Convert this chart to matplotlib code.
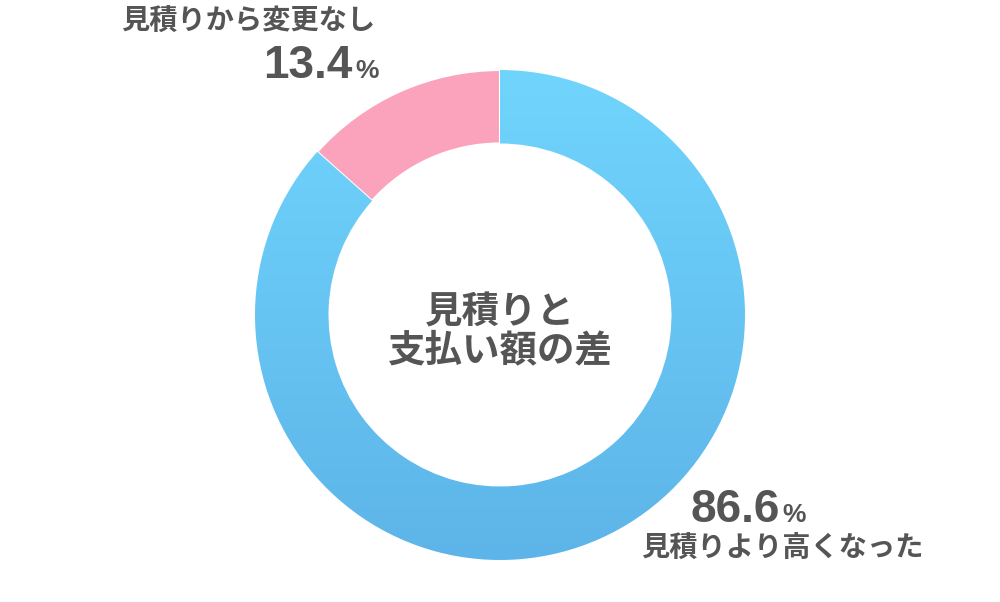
import matplotlib.pyplot as plt
import numpy as np
from matplotlib.colors import LinearSegmentedColormap

plt.rcParams['font.family'] = ['Noto Sans CJK JP', 'DejaVu Sans']

labels = ["見積りより高くなった", "見積りから変更なし"]
values = [86.6, 13.4]
colors = ["#69c9f6", "#fba3bd"]
center_title = "見積りと\n支払い額の差"
txt = "#555555"

fig = plt.figure(figsize=(10, 6.02), dpi=100)
ax = fig.add_axes([0, 0, 1, 1])

cx, cy, r = 500, 287, 245
wedges, _ = ax.pie(values, colors=colors, startangle=90, counterclock=False,
                   center=(cx, cy), radius=r, frame=True,
                   wedgeprops=dict(width=r * 0.3, edgecolor='white', linewidth=1.5))

# vertical gradient on the blue ring
cmap = LinearSegmentedColormap.from_list('blu', ['#5db4e8', '#70d5fd'])
grad = np.linspace(0, 1, 256).reshape(-1, 1)
im = ax.imshow(grad, cmap=cmap, origin='lower', aspect='auto',
               extent=(cx - r, cx + r, cy - r, cy + r), zorder=wedges[0].get_zorder() + 0.1)
im.set_clip_path(wedges[0])

ax.set_xlim(0, 1000)
ax.set_ylim(0, 602)
ax.set_aspect('equal')
ax.axis('off')

ax.text(cx, 271, center_title, ha='center', va='center', fontsize=27,
        fontweight='bold', color=txt, linespacing=0.96)

num_font = ['Liberation Sans', 'Noto Sans CJK JP']
renderer = fig.canvas.get_renderer()


def pct(x, y, val, ha):
    t = ax.text(x, y, f"{val:.1f}", ha=ha, va='baseline', fontsize=33,
                fontweight='bold', color=txt, family=num_font)
    bb = t.get_window_extent(renderer).transformed(ax.transData.inverted())
    return t, bb


# small slice label (top left)
ax.text(375, 580, labels[1], ha='right', va='center', fontsize=20.3,
        fontweight='bold', color=txt)
t, bb = pct(352, 524, values[1], 'right')
ax.text(bb.x1 + 3, 524, "%", ha='left', va='baseline', fontsize=19,
        fontweight='bold', color=txt, family=num_font)

# large slice label (bottom right)
t, bb = pct(690, 80, values[0], 'left')
ax.text(bb.x1 + 3, 80, "%", ha='left', va='baseline', fontsize=19,
        fontweight='bold', color=txt, family=num_font)
ax.text(641, 53, labels[0], ha='left', va='center', fontsize=20.3,
        fontweight='bold', color=txt)

fig.savefig('out.png', dpi=100, facecolor='white')
